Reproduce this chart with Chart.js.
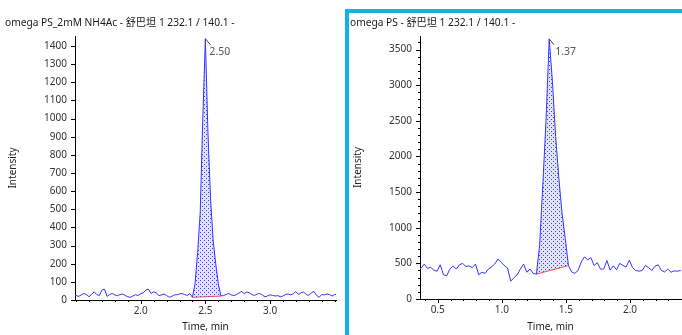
<!DOCTYPE html>
<html>
<head>
<meta charset="utf-8">
<script src="https://cdn.jsdelivr.net/npm/chart.js@4.4.1/dist/chart.umd.min.js"></script>
<style>
  body { margin: 0; background: #fff; }
  #page { position: relative; width: 682px; height: 335px; overflow: hidden;
          font-family: "Noto Sans", "Noto Sans CJK SC", sans-serif; }
  .title { position: absolute; top: 14px; font-size: 10.2px; line-height: 16px; color: #1a1a1a; white-space: nowrap; }
  #frame { position: absolute; left: 345px; top: 9px; width: 400px; height: 400px;
           border-left: 4px solid #0db3e2; border-top: 4px solid #0db3e2; }
  canvas { position: absolute; }
</style>
</head>
<body>
<div id="page">
  <div id="frame"></div>
  <canvas id="left" width="345" height="335" style="left:0;top:0"></canvas>
  <canvas id="right" width="333" height="322" style="left:349px;top:13px"></canvas>
  <div class="title" style="left:5px">omega PS_2mM NH4Ac - 舒巴坦 1 232.1 / 140.1 -</div>
  <div class="title" style="left:350px">omega PS - 舒巴坦 1 232.1 / 140.1 -</div>
</div>
<script>
// left run: first scan time and scan interval (min), then intensities
var leftStart = 1.48, leftStep = 0.02;
var leftIntensity = [
  22, 25, 20, 28, 36, 30, 18, 30, 45, 30,
  24, 55, 60, 20, 30, 36, 28, 24, 30, 33,
  25, 18, 15, 22, 29, 25, 35, 40, 55, 60,
  36, 45, 40, 24, 28, 33, 25, 15, 20, 28,
  29, 33, 36, 30, 25, 35, 15, 90, 260, 480,
  1000, 1440, 920, 560, 330, 200, 90, 22, 25, 30,
  36, 28, 24, 30, 38, 47, 35, 44, 40, 30,
  25, 33, 36, 28, 18, 22, 29, 25, 22, 24,
  18, 22, 30, 33, 28, 35, 47, 30, 40, 44,
  30, 25, 40, 47, 25, 15, 30, 28, 33, 30,
  22, 30, 33
];
var leftBaseTimes = [2.40, 2.62];
var leftBaseLevels = [15, 22];
var leftXTicks = [2.0, 2.5, 3.0];
var leftYTicks = [0, 100, 200, 300, 400, 500, 600, 700, 800, 900, 1000, 1100, 1200, 1300, 1400];

// right run
var rightStart = 0.345, rightStep = 0.025;
var rightIntensity = [
  420, 430, 490, 430, 445, 405, 390, 480, 340, 325,
  420, 465, 420, 480, 500, 455, 465, 440, 490, 340,
  375, 360, 420, 450, 490, 560, 515, 470, 435, 250,
  300, 340, 420, 490, 375, 420, 360, 350, 750, 1600,
  2500, 3650, 3050, 2280, 1700, 1200, 850, 470, 380, 360,
  400, 520, 590, 550, 580, 470, 510, 420, 420, 540,
  405, 465, 410, 500, 470, 450, 545, 440, 400, 390,
  400, 470, 440, 400, 460, 480, 400, 380, 420, 375,
  395, 390, 400, 395
];
var rightBaseTimes = [1.27, 1.52];
var rightBaseLevels = [350, 470];
var rightXTicks = [0.5, 1.0, 1.5, 2.0];
var rightYTicks = [0, 500, 1000, 1500, 2000, 2500, 3000, 3500];

var tickFont = { family: '"Noto Sans", sans-serif', size: 10 };
var axisFont = { family: '"Noto Sans", sans-serif', size: 10 };

// small axis tick marks, minor ones shorter
var tickMarks = {
  id: 'tickMarks',
  afterDraw: function(chart, args, o) {
    var x = chart.scales.x, y = chart.scales.y, ctx = chart.ctx;
    var X = function(v){ return Math.round(x.getPixelForValue(v)) + 0.5; };
    var Y = function(v){ return Math.round(y.getPixelForValue(v)) + 0.5; };
    ctx.save();
    ctx.strokeStyle = '#000';
    ctx.lineWidth = 1;
    ctx.beginPath();
    for (var k = Math.ceil(x.min / o.xMinor); k * o.xMinor <= x.max; k++) {
      var px = X(k * o.xMinor);
      ctx.moveTo(px, y.bottom); ctx.lineTo(px, y.bottom + 2);
    }
    x.ticks.forEach(function(t){
      var px = X(t.value);
      ctx.moveTo(px, y.bottom); ctx.lineTo(px, y.bottom + 4);
    });
    if (o.yMinor) {
      for (var j = 0; j * o.yMinor <= y.max; j++) {
        var py = Y(j * o.yMinor);
        ctx.moveTo(x.left, py); ctx.lineTo(x.left - 2, py);
      }
    }
    y.ticks.forEach(function(t){
      var py = Y(t.value);
      ctx.moveTo(x.left, py); ctx.lineTo(x.left - 4, py);
    });
    ctx.stroke();
    ctx.restore();
  }
};

// retention time label at the apex
var peakLabel = {
  id: 'peakLabel',
  afterDatasetsDraw: function(chart, args, o) {
    var pts = chart.data.datasets[0].data;
    var apex = pts.reduce(function(a, p){ return p.y > a.y ? p : a; });
    var px = chart.scales.x.getPixelForValue(apex.x);
    var py = chart.scales.y.getPixelForValue(apex.y);
    var ctx = chart.ctx;
    ctx.save();
    ctx.strokeStyle = '#444';
    ctx.lineWidth = 1;
    ctx.beginPath();
    ctx.moveTo(px, py); ctx.lineTo(px + 5, py + 6);
    ctx.stroke();
    ctx.fillStyle = '#555';
    ctx.font = '10.5px "Noto Sans", sans-serif';
    ctx.textBaseline = 'middle';
    ctx.fillText(apex.x.toFixed(2), px + o.dx, py + 13);
    ctx.restore();
  }
};

function dots(ctx) {
  var c = document.createElement('canvas');
  c.width = 4; c.height = 4;
  var g = c.getContext('2d');
  g.fillStyle = 'rgba(190,190,255,0.45)';
  g.fillRect(0, 0, 4, 4);
  g.fillStyle = '#3a3aff';
  g.fillRect(0, 0, 1, 1);
  g.fillRect(2, 2, 1, 1);
  return ctx.createPattern(c, 'repeat');
}

function series(start, step, values) {
  return values.map(function(v, i){ return { x: +(start + i * step).toFixed(3), y: v }; });
}

function panel(id, c) {
  var ctx = document.getElementById(id).getContext('2d');
  var trace = series(c.start, c.step, c.values);
  var t0 = c.baseTimes[0], t1 = c.baseTimes[1];
  var area = trace.filter(function(p){ return p.x >= t0 - 1e-6 && p.x <= t1 + 1e-6; });
  var base = c.baseTimes.map(function(t, i){ return { x: t, y: c.baseLevels[i] }; });

  return new Chart(ctx, {
    type: 'line',
    data: {
      datasets: [
        { data: trace, borderColor: '#3434ff', borderWidth: 1, pointRadius: 0, fill: false },
        { data: area, borderColor: 'transparent', borderWidth: 0, pointRadius: 0,
          backgroundColor: dots(ctx), fill: 2 },
        { data: base, borderColor: '#ff2b2b', borderWidth: 1, pointRadius: 0, fill: false }
      ]
    },
    options: {
      responsive: false,
      animation: false,
      events: [],
      layout: { padding: { top: c.padTop, right: c.padRight, left: 0, bottom: 0 } },
      plugins: {
        legend: { display: false },
        tooltip: { enabled: false },
        tickMarks: { xMinor: 0.1, yMinor: c.yMinor },
        peakLabel: { dx: c.labelDx }
      },
      scales: {
        x: {
          type: 'linear', min: c.xMin, max: c.xMax,
          afterBuildTicks: function(s){ s.ticks = c.xTicks.map(function(v){ return { value: v }; }); },
          afterFit: function(s){ s.height = c.xHeight; },
          grid: { display: true, drawOnChartArea: false, drawTicks: false },
          border: { display: true, color: '#000', width: 1 },
          ticks: { callback: function(v){ return v.toFixed(1); }, font: tickFont, color: '#333',
                   padding: 5, maxRotation: 0, autoSkip: false },
          title: { display: true, text: 'Time, min', font: axisFont, color: '#222',
                   padding: { top: 0, bottom: 2 } }
        },
        y: {
          min: 0, max: c.yMax,
          afterBuildTicks: function(s){ s.ticks = c.yTicks.map(function(v){ return { value: v }; }); },
          afterFit: function(s){ s.width = c.yWidth; },
          grid: { display: true, drawOnChartArea: false, drawTicks: false },
          border: { display: true, color: '#000', width: 1 },
          ticks: { callback: function(v){ return String(v); }, font: tickFont, color: '#333',
                   padding: 8, autoSkip: false },
          title: { display: true, text: 'Intensity', font: axisFont, color: '#222',
                   padding: { top: c.yTitlePad, bottom: 0 } }
        }
      }
    },
    plugins: [tickMarks, peakLabel]
  });
}

panel('left', {
  start: leftStart, step: leftStep, values: leftIntensity,
  baseTimes: leftBaseTimes, baseLevels: leftBaseLevels,
  xTicks: leftXTicks, yTicks: leftYTicks,
  xMin: 1.492, xMax: 3.51, yMax: 1455, yMinor: null,
  padTop: 36, padRight: 9, xHeight: 35, yWidth: 75, yTitlePad: 7, labelDx: 4
});

panel('right', {
  start: rightStart, step: rightStep, values: rightIntensity,
  baseTimes: rightBaseTimes, baseLevels: rightBaseLevels,
  xTicks: rightXTicks, yTicks: rightYTicks,
  xMin: 0.362, xMax: 2.398, yMax: 3690, yMinor: 100,
  padTop: 23, padRight: 1, xHeight: 36, yWidth: 71, yTitlePad: 3, labelDx: 6
});
</script>
</body>
</html>
